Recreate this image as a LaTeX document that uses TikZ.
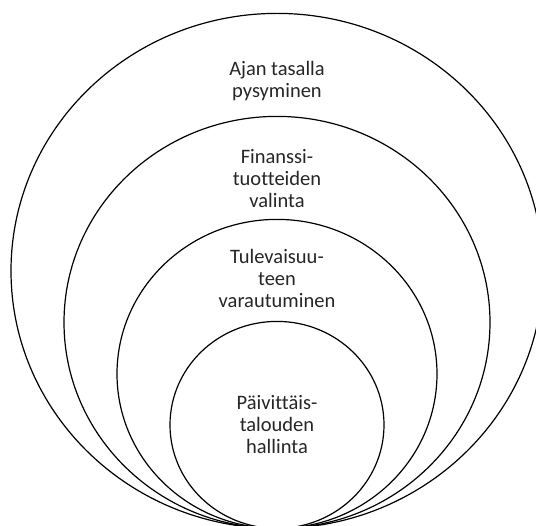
\documentclass[tikz,border=0pt]{standalone}
\usepackage{fontspec}
\setmainfont{Carlito}[Ligatures={TeX,NoCommon}]
\usetikzlibrary{shapes.geometric,positioning}

\begin{document}
\begin{tikzpicture}[x=1pt,y=-1pt,
    ring/.style={ellipse,draw,line width=1.2pt,inner sep=0pt,anchor=south},
    lbl/.style={align=center,anchor=base,text=black!85,font=\fontsize{20.5}{22.3}\selectfont}]
      \useasboundingbox (0,0) rectangle (536,526);
      \clip (0,0) rectangle (536,526);
      \coordinate (base) at (277,529);
      \node[ring,minimum width=532pt,minimum height=515pt] (r_1) at (base) {};
      \node[ring,minimum width=426pt,minimum height=412pt] (r_2) at (base) {};
      \node[ring,minimum width=320pt,minimum height=309pt] (r_3) at (base) {};
      \node[ring,minimum width=214pt,minimum height=207pt] (r_4) at (base) {};
      % base anchor sits on the last line
      \node[lbl] (t_1) at (277,98) {Ajan tasalla\\pysyminen};
      \node[lbl] (t_2) at (277,208) {Finanssi-\\tuotteiden\\valinta};
      \node[lbl] (t_3) at (277,308) {Tulevaisuu-\\teen\\varautuminen};
      \node[lbl] (t_4) at (277,454) {Päivittäis-\\talouden\\hallinta};
    \end{tikzpicture}
\end{document}
